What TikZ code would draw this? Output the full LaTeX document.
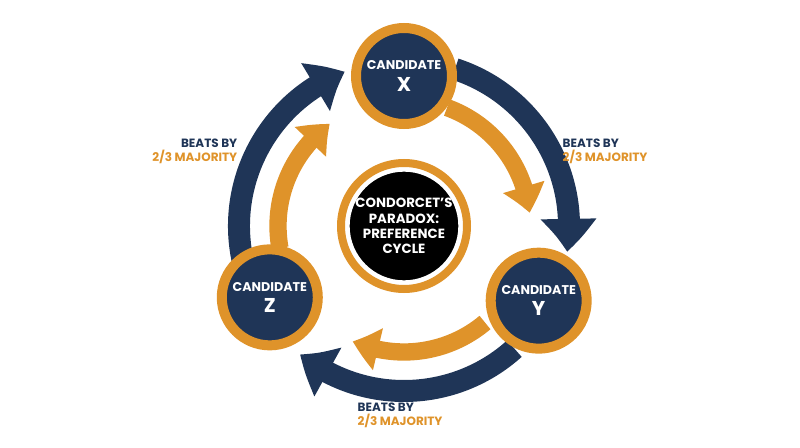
\documentclass[tikz,border=0pt]{standalone}
\usepackage{fontspec}
\setmainfont{Poppins}
\usetikzlibrary{arrows.meta,bending,calc}
\definecolor{navy}{HTML}{1F3557}
\definecolor{gold}{HTML}{DF932A}
\begin{document}
\begin{tikzpicture}[x=0.75pt,y=0.75pt,
 cand/.style={circle,fill=navy,draw=gold,line width=7.5pt,minimum size=96pt*0.75,text=white,align=center,font=\bfseries\fontsize{9.5}{11}\selectfont,inner sep=0pt},
 outerarr/.style={navy,line width=16.5pt,-{Triangle[width=40pt,length=25pt,bend]}},
 innerarr/.style={gold,line width=13pt,-{Triangle[width=31pt,length=20pt,bend]}},
 lab/.style={font=\bfseries\fontsize{9}{11}\selectfont,align=left}]
\useasboundingbox (0,0) rectangle (800,447);
\coordinate (C) at (404,221);
% arrows
\foreach \r in {0,120,240}{
 \draw[outerarr] ($(C)+({72-\r}:165)$) arc[start angle={72-\r},end angle={-9-\r},radius=165];
 \draw[innerarr] ($(C)+({70-\r}:126)$) arc[start angle={70-\r},end angle={6-\r},radius=126];
}
\node[cand] (X) at ($(C)+(90:150)$) {CANDIDATE\\[5pt]{\fontsize{15}{16}\selectfont X}};
\node[cand] (Y) at ($(C)+(-29:154)$) {CANDIDATE\\[5pt]{\fontsize{15}{16}\selectfont Y}};
\node[cand] (Z) at ($(C)+(208:152)$) {CANDIDATE\\[5pt]{\fontsize{15}{16}\selectfont Z}};
\node[circle,fill=black,draw=white,line width=4pt,minimum size=114pt*0.75,text=white,align=center,
 font=\bfseries\fontsize{10}{11.5}\selectfont,inner sep=0pt] (P) at (404,221) {CONDORCET’S\\PARADOX:\\PREFERENCE\\CYCLE};
\draw[gold,line width=6pt] (P) circle[radius=63];
\node[lab,anchor=north west] (L1) at (558,313) {\textcolor{navy}{BEATS BY}\\\textcolor{gold}{2/3 MAJORITY}};
\node[lab,anchor=north east,align=right] (L2) at (242,313) {\textcolor{navy}{BEATS BY}\\\textcolor{gold}{2/3 MAJORITY}};
\node[lab,anchor=north west] (L3) at (353,49) {\textcolor{navy}{BEATS BY}\\\textcolor{gold}{2/3 MAJORITY}};
\end{tikzpicture}
\end{document}
